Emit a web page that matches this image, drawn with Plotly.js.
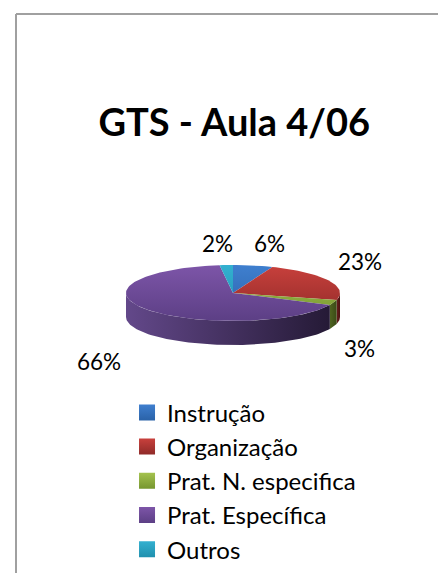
<!DOCTYPE html>
<html><head><meta charset="utf-8">
<script src="https://cdn.plot.ly/plotly-3.0.1.min.js"></script>
<style>html,body{margin:0;padding:0;background:#fff}#c{width:438px;height:573px}</style>
</head><body><div id="c"></div>
<script>
const categories = ['Instrução','Organização','Prat. N. especifica','Prat. Específica','Outros'];
const values = [6,23,3,66,2];
const topLight = ['#3f7fcf','#c8403c','#a4c24e','#7d55a8','#33b0d0'];
const topDark  = ['#2a62a8','#8f2a28','#76962f','#5c3f85','#2090ae'];
const sideLight = ['#1d4474','#6a1e1c','#4f6420','#63488a','#16657a'];
const sideDark  = ['#16345a','#4a1412','#3a4a16','#251a36','#104c5c'];
const labelPos = [[269,243],[360,261],[359,348],[99,361],[217,243]];

const cx=233, cy=293, rx=107, ry=28, depth=24;
const total = values.reduce((a,b)=>a+b,0);
const pt=(deg,dy=0)=>{const r=deg*Math.PI/180;return [cx+rx*Math.sin(r), cy-ry*Math.cos(r)+dy];};
function arc(a,b,dy=0){const out=[];const n=Math.max(2,Math.ceil((b-a)/2));
  for(let i=0;i<=n;i++)out.push(pt(a+(b-a)*i/n,dy));return out;}
const traces=[]; const annotations=[];
let start=0; const spans=values.map(v=>{const s=[start,start+v/total*360];start=s[1];return s;});

spans.forEach((s,i)=>{
  const a=Math.max(s[0],90), b=Math.min(s[1],270);
  if(b<=a) return;
  const poly=arc(a,b).concat(arc(a,b,depth).reverse());
  poly.push(poly[0]);
  traces.push({type:'scatter',mode:'lines',x:poly.map(p=>p[0]),y:poly.map(p=>p[1]),fill:'toself',
    line:{width:0,color:sideDark[i]},fillcolor:sideDark[i],
    fillgradient:{type:'horizontal',colorscale:[[0,sideLight[i]],[1,sideDark[i]]]},
    hoverinfo:'skip',showlegend:false});
});
spans.forEach((s,i)=>{
  const poly=[[cx,cy]].concat(arc(s[0],s[1]));poly.push([cx,cy]);
  traces.push({type:'scatter',mode:'lines',x:poly.map(p=>p[0]),y:poly.map(p=>p[1]),fill:'toself',
    line:{width:0,color:topDark[i]},fillcolor:topDark[i],
    fillgradient:{type:'vertical',start:cy-ry,stop:cy+ry,colorscale:[[0,topLight[i]],[1,topDark[i]]]},
    name:categories[i],hoverinfo:'name',showlegend:false});
});
categories.forEach((c,i)=>{
  traces.push({type:'scatter',mode:'markers',x:[null],y:[null],name:c,
    marker:{symbol:'square',size:16,color:topLight[i],gradient:{type:'vertical',color:topDark[i]}}});
});
values.forEach((v,i)=>annotations.push({x:labelPos[i][0],y:labelPos[i][1],xref:'x',yref:'y',text:v+'%',showarrow:false,
  font:{family:'Lato, Carlito, sans-serif',size:22.5,color:'#000'}}));

const layout={width:438,height:573,margin:{l:0,r:0,t:0,b:0},paper_bgcolor:'#fff',plot_bgcolor:'#fff',
  title:{text:'<b>GTS - Aula 4/06</b>',x:0.535,xanchor:'center',y:0.785,yanchor:'middle',yref:'container',
    font:{family:'Lato, Carlito, sans-serif',size:38,color:'#000'}},
  xaxis:{range:[0,438],visible:false,fixedrange:true},
  yaxis:{range:[573,0],visible:false,fixedrange:true},
  legend:{x:0.29,y:0.003,xanchor:'left',yanchor:'bottom',itemclick:false,itemdoubleclick:false,
    font:{family:'Lato, Carlito, sans-serif',size:24,color:'#000'},bgcolor:'rgba(0,0,0,0)'},
  shapes:[
    {type:'line',xref:'x',yref:'y',x0:16,x1:438,y0:14,y1:14,line:{color:'#a0a0a0',width:2}},
    {type:'line',xref:'x',yref:'y',x0:16,x1:16,y0:14,y1:573,line:{color:'#a0a0a0',width:2}}
  ],
  annotations:annotations};
Plotly.newPlot('c',traces,layout,{displayModeBar:false});
</script></body></html>
